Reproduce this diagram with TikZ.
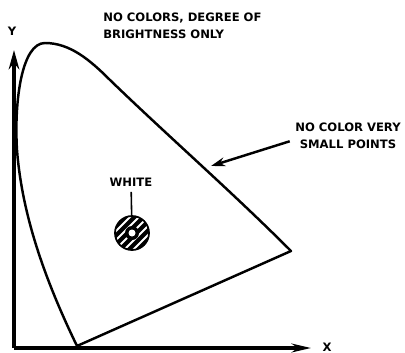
\documentclass[tikz,border=0pt]{standalone}
\usepackage{fontspec}
\setmainfont{DejaVu Sans}
\usetikzlibrary{arrows.meta,calc,positioning}

\tikzset{
  lab/.style={font=\fontsize{6.6}{9.5}\selectfont\bfseries, inner sep=0pt},
  axis/.style={line width=1.8pt},
  locus/.style={line width=1.4pt, line join=round},
  spot/.style={circle, draw, fill=black, line width=1pt, minimum size=0.68cm, inner sep=0pt,
    path picture={
      \foreach \s in {-27,-18,...,27}
        \draw[white,line width=1.1pt] ([shift={(\s-20,20)}]path picture bounding box.center)
          -- ([shift={(\s+20,-20)}]path picture bounding box.center);
      \fill (path picture bounding box.center) circle (7);
      \fill[white] (path picture bounding box.center) circle (3.5);
    }},
}

\begin{document}
\begin{tikzpicture}[x=0.02cm,y=-0.02cm,>={Stealth[length=11pt,width=6pt]}]
  \useasboundingbox (0,0) rectangle (405,352);
  % axes
  \coordinate (O) at (14,348);
  \coordinate (ytip) at (14,50);
  \coordinate (xtip) at (311,348);
  \draw[axis,->] (O) -- (ytip);
  \draw[axis,-{Stealth[length=11pt,width=5pt]}] (O) -- (xtip);
  \node[lab] (ylab) at (12,31) {Y};
  \node[lab] (xlab) at (327,347) {X};
  % colour locus
  \coordinate (bot) at (77,346);
  \coordinate (peak) at (45,43);
  \coordinate (rgt) at (291,251);
  \draw[locus] (bot) .. controls (45,280) and (22,215) .. (17,150)
    .. controls (14,100) and (22,43) .. (peak)
    .. controls (70,43) and (90,60) .. (110,80)
    .. controls (170,138) and (230,190) .. (rgt) -- cycle;
  % white point
  \node[spot] (wspot) at (132,233) {};
  \node[lab] (wlab) at (131,182) {WHITE};
  \draw[line width=0.9pt, shorten <=3pt] (wlab) -- (wspot);
  % labels
  \node[lab, align=left, anchor=north west] (toplab) at (103,13) {NO COLORS, DEGREE OF\\BRIGHTNESS ONLY};
  \node[lab, align=center] (ptlab) at (348,136) {NO COLOR VERY\\SMALL POINTS};
  \coordinate (ptip) at (211,166);
  \draw[line width=1.4pt, -{Stealth[length=8pt,width=5pt]}] ([xshift=-3pt,yshift=-3pt]ptlab.west) -- (ptip);
\end{tikzpicture}
\end{document}
